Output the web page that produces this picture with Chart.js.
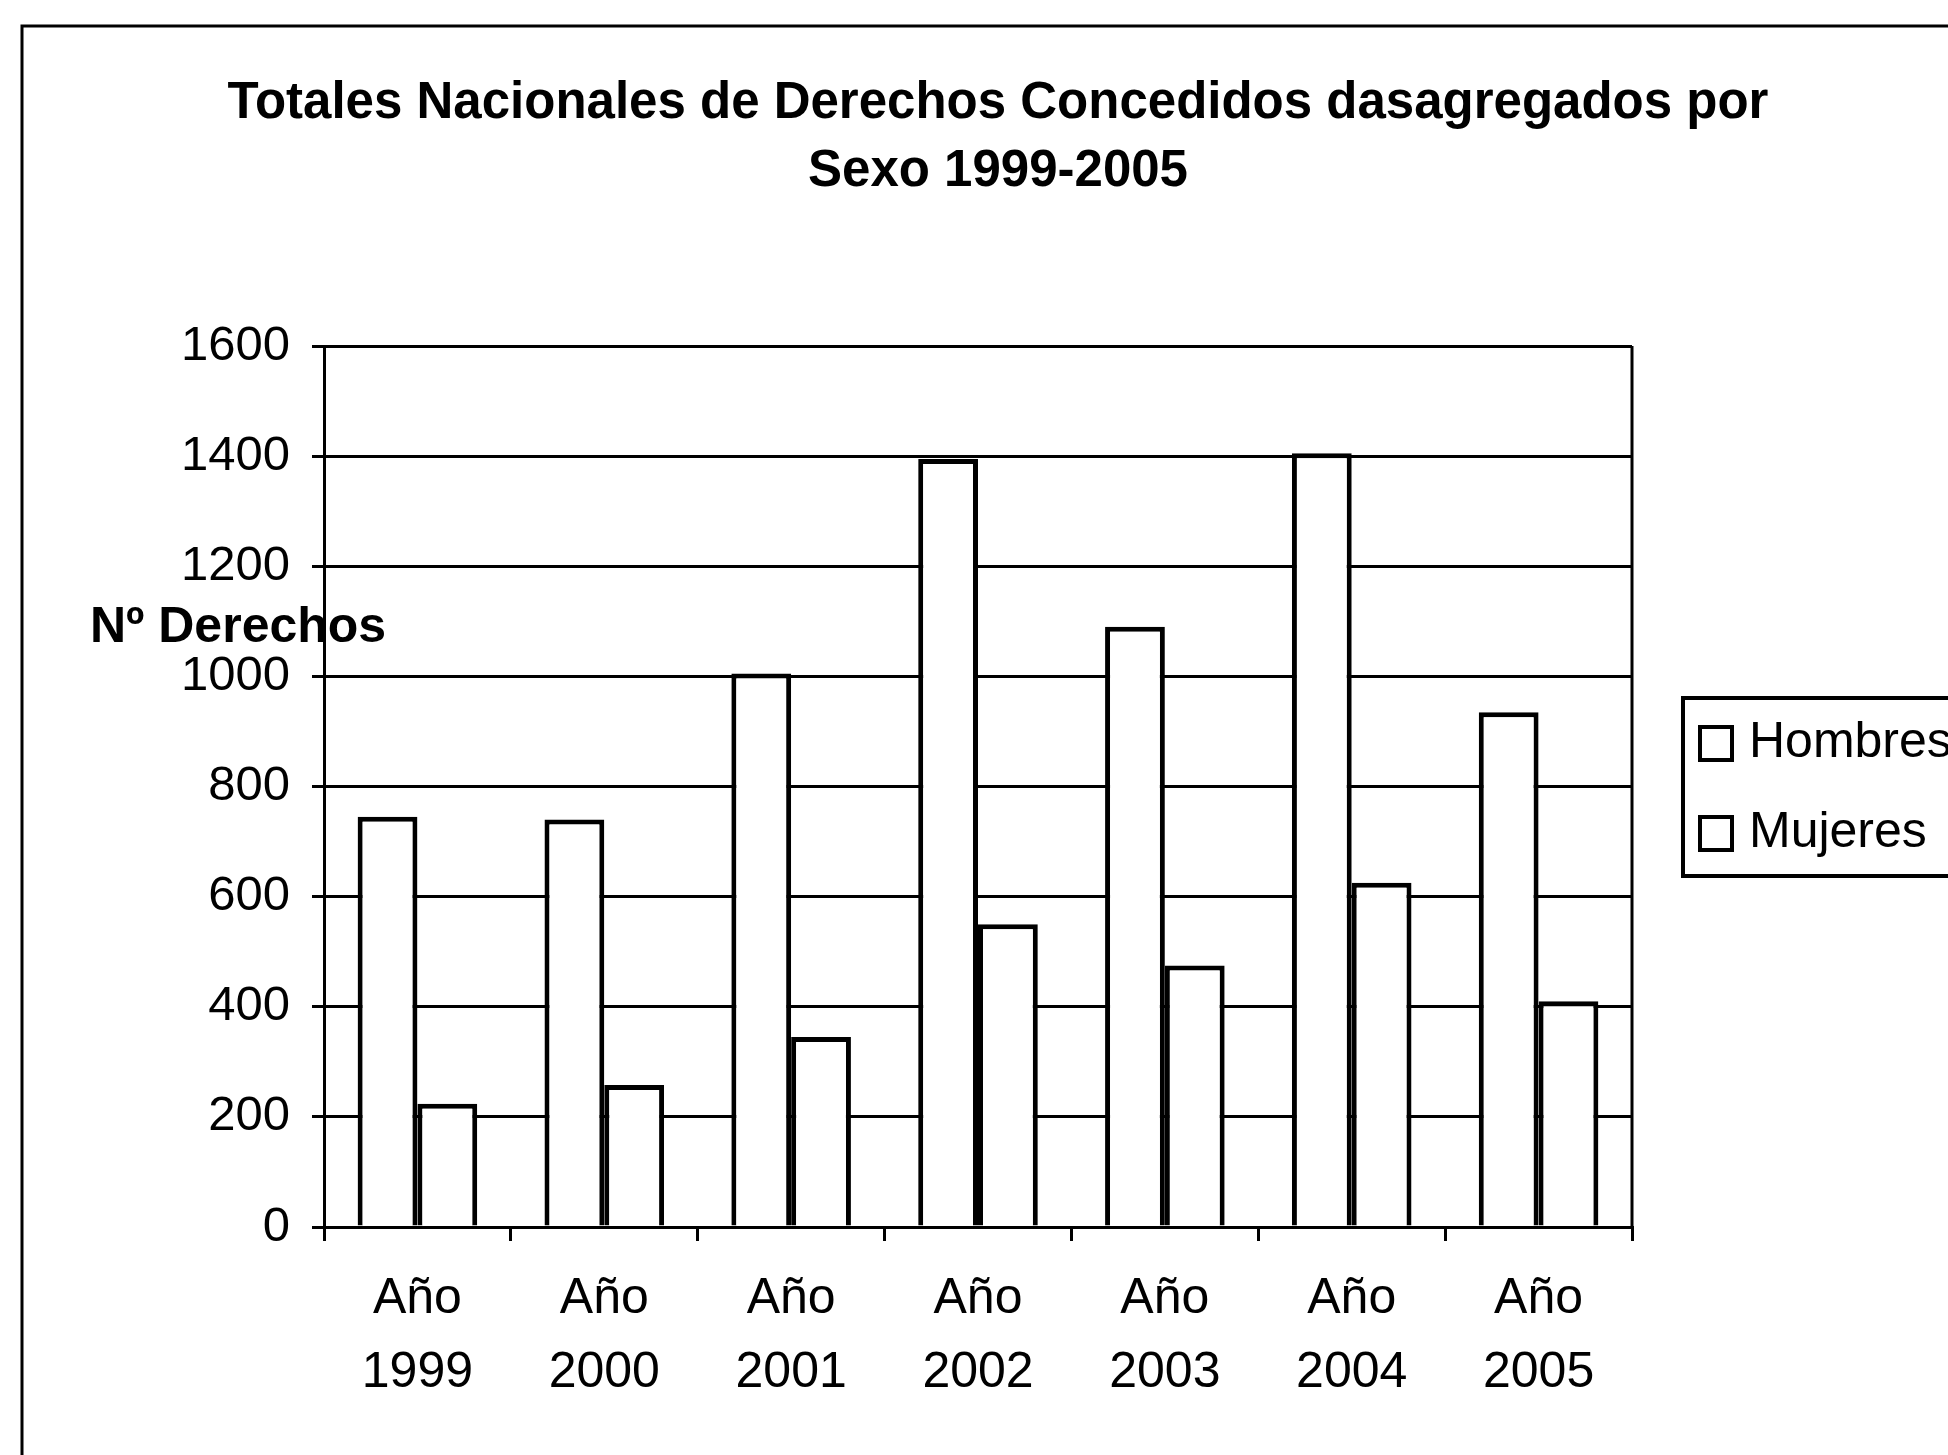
<!DOCTYPE html>
<html>
<head>
<meta charset="utf-8">
<script src="https://cdn.jsdelivr.net/npm/chart.js@4"></script>
<style>
  html, body { margin: 0; padding: 0; background: #fff; }
  #wrap { width: 1948px; height: 1455px; position: relative; }
</style>
</head>
<body>
<div id="wrap"><canvas id="chart"></canvas></div>
<script>
const years = ["1999", "2000", "2001", "2002", "2003", "2004", "2005"];
const hombres = [745, 740, 1005, 1395, 1090, 1405, 935];
const mujeres = [224, 258, 345, 550, 475, 625, 410];
const yTicks = [0, 200, 400, 600, 800, 1000, 1200, 1400, 1600];
const titleLines = ["Totales Nacionales de Derechos Concedidos dasagregados por", "Sexo 1999-2005"];
const yTitle = "Nº Derechos";

const FONT = "'Liberation Sans', Arial, sans-serif";

// frame, title, axis title, plot edge and legend box
const extras = {
  id: "extras",
  beforeDraw(chart) {
    const c = chart.ctx;
    c.save();
    c.fillStyle = "#fff";
    c.fillRect(0, 0, chart.width, chart.height);
    c.strokeStyle = "#000";
    c.lineWidth = 3;
    c.beginPath();
    c.moveTo(22, chart.height);
    c.lineTo(22, 26);
    c.lineTo(chart.width, 26);
    c.stroke();
    c.restore();
  },
  afterDraw(chart) {
    const c = chart.ctx;
    const a = chart.chartArea;
    c.save();
    c.fillStyle = "#000";
    c.textAlign = "center";
    c.textBaseline = "alphabetic";
    c.font = "bold 51px " + FONT;
    c.fillText(titleLines[0], 998, 118);
    c.fillText(titleLines[1], 998, 186);

    c.textAlign = "left";
    c.font = "bold 50px " + FONT;
    c.fillText(yTitle, a.left - 234, a.top + 296);

    // right edge of plot
    c.strokeStyle = "#000";
    c.lineWidth = 3;
    c.beginPath();
    c.moveTo(a.right, a.top);
    c.lineTo(a.right, a.bottom);
    c.stroke();

    // legend
    const lx = a.right + 51, ly = a.top + 352;
    c.lineWidth = 4;
    c.strokeRect(lx, ly, 320, 178);
    c.font = "50px " + FONT;
    chart.data.datasets.forEach((ds, i) => {
      const sy = ly + 29 + i * 90;
      c.fillStyle = ds.backgroundColor;
      c.fillRect(lx + 17, sy, 32, 33);
      c.lineWidth = 4;
      c.strokeRect(lx + 17, sy, 32, 33);
      c.fillStyle = "#000";
      c.fillText(ds.label, lx + 66, sy + 30);
    });
    c.restore();
  }
};

const ctx = document.getElementById("chart").getContext("2d");
new Chart(ctx, {
  type: "bar",
  data: {
    labels: years.map(y => ["Año", y]),
    datasets: [
      { label: "Hombres", data: hombres, backgroundColor: "#fff", borderColor: "#000", borderWidth: 5 },
      { label: "Mujeres", data: mujeres, backgroundColor: "#fff", borderColor: "#000", borderWidth: 5 }
    ]
  },
  options: {
    responsive: true,
    maintainAspectRatio: false,
    animation: false,
    devicePixelRatio: 1,
    categoryPercentage: 0.64,
    barPercentage: 1.0,
    layout: { padding: { top: 346, left: 24, right: 316, bottom: 68 } },
    plugins: {
      legend: { display: false },
      title: { display: false },
      tooltip: { enabled: false }
    },
    scales: {
      x: {
        offset: true,
        grid: { offset: true, drawOnChartArea: false, color: "#000", lineWidth: 3, tickLength: 14 },
        border: { color: "#000", width: 3 },
        ticks: { color: "#000", padding: 21, maxRotation: 0, font: { family: FONT, size: 50, lineHeight: 1.48 } },
        afterFit(scale) { scale.height = 160; }
      },
      y: {
        min: 0,
        max: 1600,
        afterBuildTicks(scale) { scale.ticks = yTicks.map(v => ({ value: v })); },
        grid: { color: "#000", lineWidth: 3, tickLength: 12 },
        border: { color: "#000", width: 3 },
        ticks: {
          color: "#000",
          padding: 22,
          font: { family: FONT, size: 49 },
          callback: v => String(v)
        },
        afterFit(scale) { scale.width = 300; }
      }
    }
  },
  plugins: [extras]
});
</script>
</body>
</html>
